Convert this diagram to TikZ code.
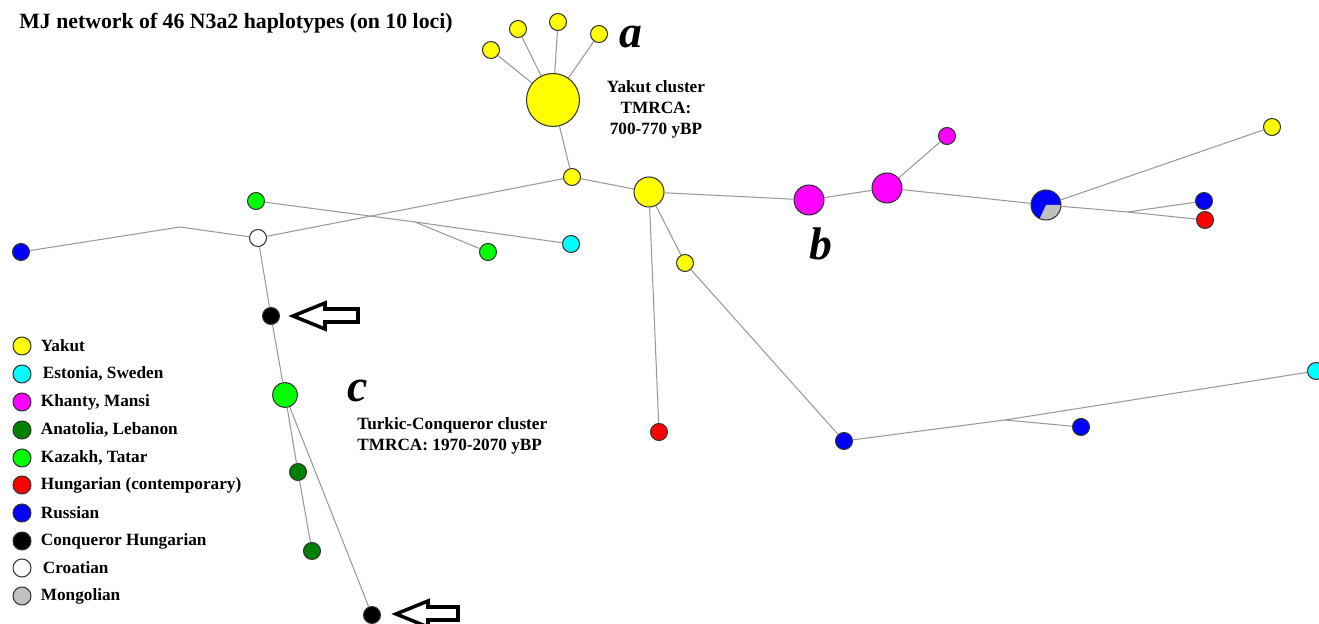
\documentclass[tikz,border=0pt]{standalone}
\usepackage{fontspec}
\setmainfont{Liberation Serif}
\usetikzlibrary{positioning}

\definecolor{yakut}{RGB}{255,255,0}
\definecolor{estonia}{RGB}{0,255,255}
\definecolor{khanty}{RGB}{255,0,255}
\definecolor{anatolia}{RGB}{0,128,0}
\definecolor{kazakh}{RGB}{0,255,0}
\definecolor{hungarian}{RGB}{255,0,0}
\definecolor{russian}{RGB}{0,0,255}
\definecolor{conqueror}{RGB}{0,0,0}
\definecolor{croatian}{RGB}{255,255,255}
\definecolor{mongol}{RGB}{192,192,192}

\begin{document}
\begin{tikzpicture}[x=0.02cm,y=-0.02cm,
  hap/.style={circle,draw=black!80,line width=0.6pt,inner sep=0pt,minimum size=0.34cm},
  mid/.style={hap,minimum size=0.6cm},
  link/.style={draw=black!40,line width=0.6pt},
  pointer/.style={draw=black,line width=2pt,fill=white,line join=miter},
  legtext/.style={inner sep=0pt,right=0.18cm of #1,font=\fontsize{9.8}{12}\selectfont\bfseries},
  note/.style={inner sep=0pt,font=\fontsize{9.8}{12}\selectfont\bfseries},
  letter/.style={inner sep=0pt,font=\fontsize{26}{28}\selectfont\bfseries\itshape}]
 \useasboundingbox (0,0) rectangle (1319,624);

 \node[anchor=base west,inner sep=0pt,font=\fontsize{12.4}{14}\selectfont\bfseries] (title) at (19,29) {MJ network of 46 N3a2 haplotypes (on 10 loci)};

 % Yakut cluster
 \node[hap,fill=yakut,minimum size=1.06cm](0) at (553,100){};
 \node[hap,fill=yakut](1) at (491,50){};
 \node[hap,fill=yakut](2) at (518,29){};
 \node[hap,fill=yakut](3) at (558,22){};
 \node[hap,fill=yakut](4) at (599,34){};
 \node[hap,fill=yakut](5) at (572,177){};
 \node[mid,fill=yakut](6) at (649,192){};

 \node[hap,fill=croatian](7) at (258,238){};
 \node[hap,fill=russian](8) at (21,252){};
 \node[hap,fill=kazakh](9) at (256,201){};
 \node[hap,fill=kazakh](10) at (488,252){};
 \node[hap,fill=estonia](11) at (571,244){};

 % Turkic-Conqueror cluster
 \node[hap,fill=conqueror](12) at (271,316){};
 \node[hap,fill=kazakh,minimum size=0.5cm](13) at (285,395){};
 \node[hap,fill=anatolia](14) at (298,472){};
 \node[hap,fill=anatolia](15) at (312,551){};
 \node[hap,fill=conqueror](16) at (372,615){};

 \node[mid,fill=khanty](17) at (809,200){};
 \node[mid,fill=khanty](18) at (887,188){};
 \node[hap,fill=khanty](19) at (947,136){};
 \node[mid,fill=russian,path picture={\fill[mongol] (path picture bounding box.center) -- +(245:0.3cm) arc[start angle=245,end angle=360,radius=0.3cm] -- cycle;}](20) at (1046,205){};
 \node[hap,fill=yakut](21) at (1272,127){};
 \node[hap,fill=russian](22) at (1204,201){};
 \node[hap,fill=hungarian](23) at (1205,220){};

 \node[hap,fill=yakut](24) at (685,263){};
 \node[hap,fill=hungarian](25) at (659,432){};
 \node[hap,fill=russian](26) at (844,441){};
 \node[hap,fill=russian](27) at (1081,427){};
 \node[hap,fill=estonia](28) at (1316,371){};

 \coordinate (m1) at (180,227);
 \coordinate (m2) at (415,222);
 \coordinate (m3) at (1128,212);
 \coordinate (m4) at (1005,420);

 \draw [link] (0) -- (1);
 \draw [link] (0) -- (2);
 \draw [link] (0) -- (3);
 \draw [link] (0) -- (4);
 \draw [link] (0) -- (5);
 \draw [link] (5) -- (6);
 \draw [link] (5) -- (7);

 \draw [link] (7) -- (m1) -- (8);
 \draw [link] (9) -- (m2) -- (11);
 \draw [link] (m2) -- (10);

 \draw [link] (7) -- (12);
 \draw [link] (12) -- (13);
 \draw [link] (13) -- (14);
 \draw [link] (14) -- (15);
 \draw [link] (13) -- (16);

 \draw [link] (6) -- (17);
 \draw [link] (17) -- (18);
 \draw [link] (18) -- (19);
 \draw [link] (18) -- (20);
 \draw [link] (20) -- (21);
 \draw [link] (20) -- (m3) -- (23);
 \draw [link] (m3) -- (22);

 \draw [link] (6) -- (24);
 \draw [link] (24) -- (26);
 \draw [link] (6) -- (25);
 \draw [link] (26) -- (m4) -- (28);
 \draw [link] (m4) -- (27);

 % open arrows pointing at the Conqueror Hungarians
 \draw[pointer] (293,316) -- (325,303) -- (325,309) -- (358,309) -- (358,322) -- (325,322) -- (325,329) -- cycle;
 \draw[pointer] (396,614) -- (428,601) -- (428,607) -- (458,607) -- (458,620) -- (428,620) -- (428,627) -- cycle;

 \node[letter] (a) at (631,37) {a};
 \node[letter] (b) at (821,244) {b};
 \node[letter] (c) at (358,391) {c};

 \node[note,align=center] (yakutlab) at (656,109) {Yakut cluster\\TMRCA:\\700-770 yBP};
 \node[note,align=left,anchor=west] (turkiclab) at (357,436) {Turkic-Conqueror cluster\\TMRCA: 1970-2070 yBP};

 % legend
 \node[hap,minimum size=0.36cm,fill=yakut](l1) at (22,346){};
 \node[hap,minimum size=0.36cm,fill=estonia](l2) at (22,374){};
 \node[hap,minimum size=0.36cm,fill=khanty](l3) at (22,402){};
 \node[hap,minimum size=0.36cm,fill=anatolia](l4) at (22,430){};
 \node[hap,minimum size=0.36cm,fill=kazakh](l5) at (22,458){};
 \node[hap,minimum size=0.36cm,fill=hungarian](l6) at (22,485){};
 \node[hap,minimum size=0.36cm,fill=russian](l7) at (22,513){};
 \node[hap,minimum size=0.36cm,fill=conqueror](l8) at (22,541){};
 \node[hap,minimum size=0.36cm,fill=croatian](l9) at (22,568){};
 \node[hap,minimum size=0.36cm,fill=mongol](l10) at (22,596){};

 \node[legtext=l1] {Yakut};
 \node[legtext=l2,xshift=0.04cm] {Estonia, Sweden};
 \node[legtext=l3] {Khanty, Mansi};
 \node[legtext=l4] {Anatolia, Lebanon};
 \node[legtext=l5] {Kazakh, Tatar};
 \node[legtext=l6] {Hungarian (contemporary)};
 \node[legtext=l7] {Russian};
 \node[legtext=l8] {Conqueror Hungarian};
 \node[legtext=l9,xshift=0.04cm] {Croatian};
 \node[legtext=l10] {Mongolian};
\end{tikzpicture}
\end{document}
